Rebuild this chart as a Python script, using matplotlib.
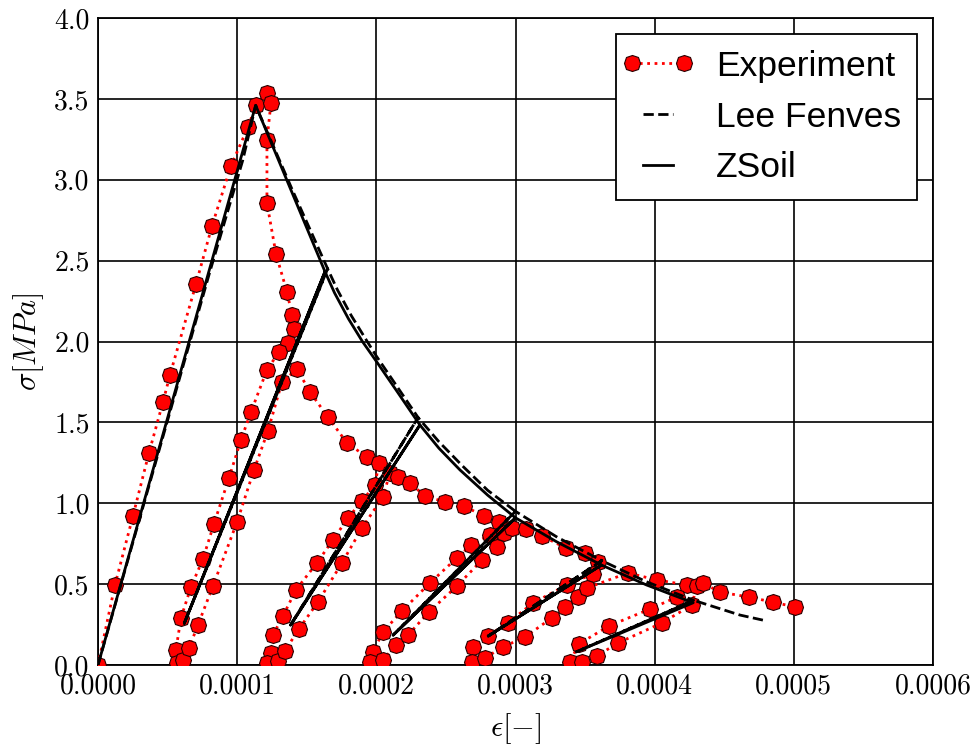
import numpy as np
import matplotlib
matplotlib.use('Agg')
import matplotlib.pyplot as plt
from matplotlib.ticker import FormatStrFormatter
from matplotlib.legend_handler import HandlerLine2D
from matplotlib.markers import MarkerStyle
from matplotlib.transforms import Affine2D

plt.rcParams['mathtext.fontset'] = 'cm'
plt.rcParams['axes.formatter.use_mathtext'] = True

# experiment: cyclic tension test (strain given in 1e-4)
exp_strain = np.array([
    0.000, 0.122, 0.251, 0.366, 0.467, 0.517, 0.704, 0.819, 0.955, 1.078,
    1.135, 1.214, 1.243, 1.214, 1.214, 1.279, 1.358, 1.394, 1.408, 1.365,
    1.300, 1.214, 1.099, 1.027, 0.941, 0.833, 0.754, 0.668, 0.596, 0.560,
    0.568, 0.611, 0.654, 0.718, 0.826, 0.999, 1.121, 1.221, 1.322, 1.430,
    1.523, 1.652, 1.789, 1.932, 2.019, 1.990, 1.897, 1.796, 1.688, 1.573,
    1.422, 1.329, 1.257, 1.243, 1.214, 1.293, 1.343, 1.444, 1.580, 1.753,
    1.897, 2.047, 2.098, 2.155, 2.241, 2.349, 2.493, 2.629, 2.773, 2.881,
    2.816, 2.680, 2.579, 2.385, 2.184, 2.047, 1.976, 1.954, 2.047, 2.141,
    2.227, 2.378, 2.579, 2.759, 2.866, 2.917, 2.974, 3.075, 3.190, 3.362,
    3.499, 3.592, 3.556, 3.369, 3.125, 2.945, 2.802, 2.694, 2.687, 2.780,
    2.909, 3.068, 3.261, 3.355, 3.448, 3.513, 3.807, 4.016, 4.231, 4.159,
    3.966, 3.671, 3.455, 3.391, 3.477, 3.585, 3.736, 4.052, 4.267, 4.303,
    4.346, 4.468, 4.677, 4.849, 5.007]) * 1e-4
exp_stress = np.array([
    0.000, 0.495, 0.921, 1.311, 1.626, 1.793, 2.355, 2.714, 3.085, 3.326,
    3.462, 3.536, 3.475, 3.246, 2.856, 2.541, 2.306, 2.164, 2.077, 1.991,
    1.935, 1.824, 1.564, 1.391, 1.156, 0.872, 0.655, 0.482, 0.291, 0.093,
    0.012, 0.031, 0.105, 0.247, 0.488, 0.884, 1.206, 1.447, 1.750, 1.830,
    1.688, 1.533, 1.373, 1.286, 1.249, 1.113, 1.014, 0.909, 0.773, 0.631,
    0.464, 0.303, 0.185, 0.074, 0.012, 0.025, 0.087, 0.223, 0.389, 0.631,
    0.847, 1.039, 1.187, 1.162, 1.125, 1.045, 1.008, 0.983, 0.921, 0.884,
    0.804, 0.742, 0.662, 0.507, 0.334, 0.204, 0.080, 0.019, 0.031, 0.124,
    0.185, 0.328, 0.488, 0.649, 0.730, 0.816, 0.847, 0.841, 0.798, 0.723,
    0.692, 0.637, 0.563, 0.495, 0.383, 0.260, 0.179, 0.111, 0.019, 0.043,
    0.111, 0.173, 0.291, 0.359, 0.420, 0.476, 0.569, 0.526, 0.495, 0.420,
    0.346, 0.241, 0.130, 0.019, 0.019, 0.056, 0.136, 0.260, 0.371, 0.488,
    0.507, 0.451, 0.420, 0.389, 0.359])

# Lee-Fenves model
lf_strain = np.array([
    0.000, 0.800, 1.040, 1.133, 1.400, 1.650, 0.620, 1.650, 1.720, 1.820,
    1.920, 2.000, 2.150, 2.300, 1.384, 2.300, 2.450, 2.620, 2.800, 3.000,
    2.121, 3.000, 3.300, 3.620, 2.804, 3.620, 3.940, 4.280, 3.439, 4.280,
    4.612, 4.806]) * 1e-4
lf_stress = np.array([
    0.000, 2.420, 3.120, 3.460, 2.930, 2.450, 0.258, 2.450, 2.320, 2.160,
    2.020, 1.910, 1.720, 1.530, 0.247, 1.530, 1.380, 1.230, 1.080, 0.950,
    0.185, 0.950, 0.790, 0.645, 0.179, 0.645, 0.515, 0.400, 0.082, 0.400,
    0.309, 0.272])

# ZSoil model
zs_strain = np.array([
    0.000, 1.133, 1.631, 0.620, 1.631, 1.700, 1.800, 1.900, 2.002, 2.150,
    2.313, 1.384, 2.313, 2.450, 2.601, 2.800, 3.000, 2.121, 3.000, 3.295,
    3.618, 2.804, 3.618, 3.941, 4.277, 3.439]) * 1e-4
zs_stress = np.array([
    0.000, 3.460, 2.432, 0.258, 2.432, 2.300, 2.140, 2.000, 1.875, 1.690,
    1.484, 0.247, 1.484, 1.340, 1.206, 1.050, 0.910, 0.185, 0.910, 0.762,
    0.618, 0.179, 0.618, 0.495, 0.385, 0.082])

x_ticks = np.arange(0, 0.00061, 0.0001)
y_ticks = np.arange(0, 4.01, 0.5)

fig = plt.figure(figsize=(9.79, 7.45), dpi=100)
ax = fig.add_axes([98/979, 80/745, 835/979, 647/745])

# octagon standing on a corner
octa = MarkerStyle('8', transform=Affine2D().rotate_deg(22.5))

exp_line, = ax.plot(exp_strain, exp_stress, 'r:', lw=2, marker=octa, ms=11.5,
                    mfc='red', mec='#2a0000', mew=0.8, label='Experiment',
                    zorder=3)
ax.plot(lf_strain, lf_stress, 'k--', lw=2, label='Lee Fenves', zorder=4)
ax.plot(zs_strain, zs_stress, 'k-', lw=2, label='ZSoil', zorder=5)

ax.set_xlim(0, 0.0006)
ax.set_ylim(0, 4.0)
ax.set_xticks(x_ticks)
ax.set_yticks(y_ticks)
ax.xaxis.set_major_formatter(FormatStrFormatter('%.4f'))
ax.yaxis.set_major_formatter(FormatStrFormatter('%.1f'))
ax.grid(True, color='k', ls='-', lw=1.2)
ax.set_axisbelow(True)
for s in ax.spines.values():
    s.set_linewidth(1.3)
ax.tick_params(direction='in', length=0, pad=6)
for lab in ax.get_xticklabels() + ax.get_yticklabels():
    lab.set_family('cmr10')
    lab.set_fontsize(20)

ax.set_xlabel(r'$\epsilon [-]$', fontsize=22, labelpad=8)
ax.set_ylabel(r'$\sigma [MPa]$', fontsize=22, labelpad=6)

# markers sit at the ends of the legend handle
leg = ax.legend(loc='upper right', numpoints=2, fancybox=False, framealpha=1,
                edgecolor='k', handlelength=1.47, handletextpad=0.9,
                labelspacing=0.5, borderaxespad=0.45, borderpad=0.45,
                handler_map={exp_line: HandlerLine2D(marker_pad=0.0)},
                prop={'family': 'Liberation Sans', 'size': 25.5})
leg.get_frame().set_linewidth(1.3)

fig.savefig('out.png', dpi=100, facecolor='white')
